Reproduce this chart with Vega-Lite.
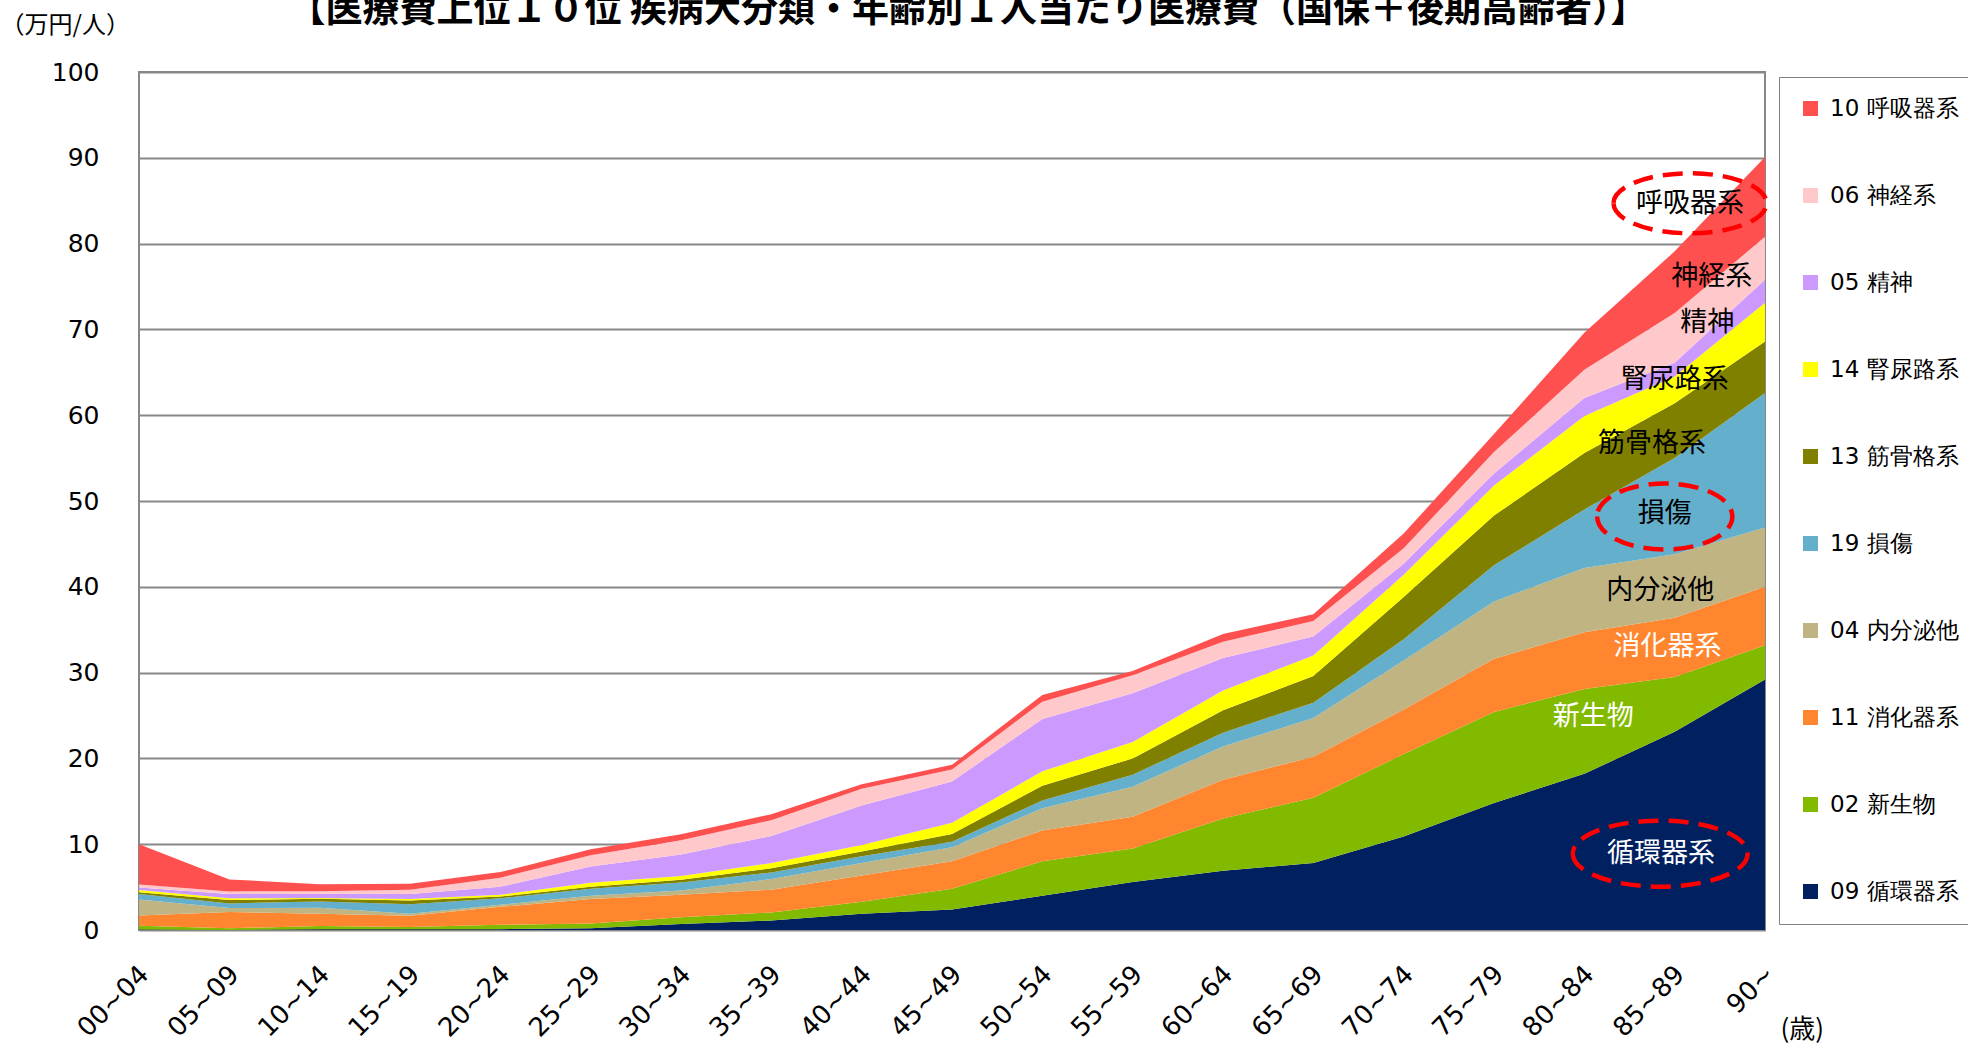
{
  "$schema": "https://vega.github.io/schema/vega-lite/v6.json",
  "autosize": "none",
  "width": 1626,
  "height": 858,
  "padding": {"left": 139, "top": 72, "right": 203, "bottom": 113},
  "background": "white",
  "title": {
    "text": "【医療費上位１０位 疾病大分類・年齢別１人当たり医療費（国保＋後期高齢者）】",
    "font": "Noto Sans CJK JP",
    "fontSize": 37,
    "fontWeight": "bold",
    "color": "#000000",
    "anchor": "middle",
    "frame": "group",
    "offset": 0,
    "dy": 17,
    "dx": 16
  },
  "config": {
    "view": {"stroke": "#888888", "strokeWidth": 2},
    "axis": {"labelFont": "DejaVu Sans", "titleFont": "Noto Sans CJK JP", "labelColor": "#000000", "titleColor": "#000000"}
  },
  "resolve": {"scale": {"x": "independent"}, "axis": {"x": "independent"}},
  "layer": [
    {
      "data": {
        "values": [
          {"age": "00~04", "09 循環器系": 0.05, "02 新生物": 0.45, "11 消化器系": 1.2, "04 内分泌他": 1.85, "19 損傷": 0.65, "13 筋骨格系": 0.2, "14 腎尿路系": 0.25, "05 精神": 0.3, "06 神経系": 0.35, "10 呼吸器系": 4.7},
          {"age": "05~09", "09 循環器系": 0.0, "02 新生物": 0.2, "11 消化器系": 1.9, "04 内分泌他": 0.45, "19 損傷": 0.55, "13 筋骨格系": 0.4, "14 腎尿路系": 0.2, "05 精神": 0.5, "06 神経系": 0.3, "10 呼吸器系": 1.4},
          {"age": "10~14", "09 循環器系": 0.08, "02 新生物": 0.4, "11 消化器系": 1.4, "04 内分泌他": 0.7, "19 損傷": 0.75, "13 筋骨格系": 0.3, "14 腎尿路系": 0.1, "05 精神": 0.5, "06 神経系": 0.3, "10 呼吸器系": 0.8},
          {"age": "15~19", "09 循環器系": 0.1, "02 新生物": 0.25, "11 消化器系": 1.3, "04 内分泌他": 0.25, "19 損傷": 1.1, "13 筋骨格系": 0.45, "14 腎尿路系": 0.15, "05 精神": 0.6, "06 神経系": 0.5, "10 呼吸器系": 0.7},
          {"age": "20~24", "09 循環器系": 0.1, "02 新生物": 0.5, "11 消化器系": 2.1, "04 内分泌他": 0.25, "19 損傷": 0.75, "13 筋骨格系": 0.2, "14 腎尿路系": 0.2, "05 精神": 0.95, "06 神経系": 1.05, "10 呼吸器系": 0.65},
          {"age": "25~29", "09 循環器系": 0.2, "02 新生物": 0.55, "11 消化器系": 2.85, "04 内分泌他": 0.4, "19 損傷": 0.8, "13 筋骨格系": 0.25, "14 腎尿路系": 0.45, "05 精神": 1.9, "06 神経系": 1.3, "10 呼吸器系": 0.7},
          {"age": "30~34", "09 循環器系": 0.7, "02 新生物": 0.8, "11 消化器系": 2.6, "04 内分泌他": 0.5, "19 損傷": 0.95, "13 筋骨格系": 0.3, "14 腎尿路系": 0.45, "05 精神": 2.5, "06 神経系": 1.65, "10 呼吸器系": 0.7},
          {"age": "35~39", "09 循環器系": 1.1, "02 新生物": 0.95, "11 消化器系": 2.65, "04 内分泌他": 1.25, "19 損傷": 0.75, "13 筋骨格系": 0.5, "14 腎尿路系": 0.6, "05 精神": 3.15, "06 神経系": 1.85, "10 呼吸器系": 0.7},
          {"age": "40~44", "09 循環器系": 1.9, "02 新生物": 1.4, "11 消化器系": 3.05, "04 内分泌他": 1.45, "19 損傷": 0.8, "13 筋骨格系": 0.55, "14 腎尿路系": 0.75, "05 精神": 4.6, "06 神経系": 1.95, "10 呼吸器系": 0.55},
          {"age": "45~49", "09 循環器系": 2.4, "02 新生物": 2.4, "11 消化器系": 3.2, "04 内分泌他": 1.65, "19 損傷": 0.65, "13 筋骨格系": 0.9, "14 腎尿路系": 1.3, "05 精神": 4.8, "06 神経系": 1.4, "10 呼吸器系": 0.55},
          {"age": "50~54", "09 循環器系": 4.0, "02 新生物": 4.0, "11 消化器系": 3.6, "04 内分泌他": 2.6, "19 損傷": 0.9, "13 筋骨格系": 1.7, "14 腎尿路系": 1.7, "05 精神": 6.1, "06 神経系": 2.0, "10 呼吸器系": 0.8},
          {"age": "55~59", "09 循環器系": 5.6, "02 新生物": 3.9, "11 消化器系": 3.7, "04 内分泌他": 3.5, "19 損傷": 1.4, "13 筋骨格系": 1.9, "14 腎尿路系": 1.9, "05 精神": 5.7, "06 神経系": 2.1, "10 呼吸器系": 0.5},
          {"age": "60~64", "09 循環器系": 6.9, "02 新生物": 6.1, "11 消化器系": 4.5, "04 内分泌他": 3.9, "19 損傷": 1.6, "13 筋骨格系": 2.6, "14 腎尿路系": 2.3, "05 精神": 3.8, "06 神経系": 1.9, "10 呼吸器系": 0.9},
          {"age": "65~69", "09 循環器系": 7.8, "02 新生物": 7.6, "11 消化器系": 4.8, "04 内分泌他": 4.5, "19 損傷": 1.8, "13 筋骨格系": 3.1, "14 腎尿路系": 2.4, "05 精神": 2.2, "06 神経系": 1.8, "10 呼吸器系": 0.8},
          {"age": "70~74", "09 循環器系": 10.9, "02 新生物": 9.6, "11 消化器系": 5.2, "04 内分泌他": 5.7, "19 損傷": 2.5, "13 筋骨格系": 4.9, "14 腎尿路系": 2.6, "05 精神": 1.3, "06 神経系": 1.8, "10 呼吸器系": 1.7},
          {"age": "75~79", "09 循環器系": 14.8, "02 新生物": 10.6, "11 消化器系": 6.2, "04 内分泌他": 6.7, "19 損傷": 4.2, "13 筋骨格系": 5.8, "14 腎尿路系": 3.5, "05 精神": 1.4, "06 神経系": 2.5, "10 呼吸器系": 2.1},
          {"age": "80~84", "09 循環器系": 18.2, "02 新生物": 9.9, "11 消化器系": 6.6, "04 内分泌他": 7.5, "19 損傷": 6.8, "13 筋骨格系": 6.6, "14 腎尿路系": 4.3, "05 精神": 2.1, "06 神経系": 3.3, "10 呼吸器系": 4.3},
          {"age": "85~89", "09 循環器系": 23.1, "02 新生物": 6.4, "11 消化器系": 6.9, "04 内分泌他": 7.4, "19 損傷": 11.2, "13 筋骨格系": 6.4, "14 腎尿路系": 3.1, "05 精神": 1.6, "06 神経系": 5.8, "10 呼吸器系": 7.2},
          {"age": "90~", "09 循環器系": 29.2, "02 新生物": 4.0, "11 消化器系": 6.8, "04 内分泌他": 6.9, "19 損傷": 15.7, "13 筋骨格系": 6.0, "14 腎尿路系": 4.5, "05 精神": 2.7, "06 神経系": 5.0, "10 呼吸器系": 9.3}
        ]
      },
      "transform": [
        {"fold": ["09 循環器系", "02 新生物", "11 消化器系", "04 内分泌他", "19 損傷", "13 筋骨格系", "14 腎尿路系", "05 精神", "06 神経系", "10 呼吸器系"], "as": ["series", "value"]},
        {"calculate": "indexof(['09 循環器系', '02 新生物', '11 消化器系', '04 内分泌他', '19 損傷', '13 筋骨格系', '14 腎尿路系', '05 精神', '06 神経系', '10 呼吸器系'], datum.series)", "as": "stackRank"}
      ],
      "mark": {"type": "area", "interpolate": "linear", "opacity": 1},
      "encoding": {
        "x": {
          "field": "age", "type": "ordinal", "sort": null,
          "scale": {"type": "point", "padding": 0},
          "axis": {
            "title": "(歳)", "titleFontSize": 26, "titleFontWeight": "normal",
            "titleX": 1641, "titleY": 99, "titleAlign": "left", "titleBaseline": "middle", "titleAngle": 0,
            "labelAngle": -45, "labelAlign": "right", "labelBaseline": "middle", "labelFontSize": 26,
            "labelPadding": 40, "labelOffset": 5, "ticks": false, "tickSize": 0, "domain": false, "grid": false, "labelOverlap": false
          }
        },
        "y": {
          "field": "value", "type": "quantitative", "stack": "zero",
          "scale": {"domain": [0, 100], "nice": false},
          "axis": {
            "title": "（万円/人）", "titleFontSize": 24, "titleFontWeight": "normal", "titleAngle": 0,
            "titleX": -139, "titleY": -47, "titleAlign": "left", "titleBaseline": "middle",
            "values": [0, 10, 20, 30, 40, 50, 60, 70, 80, 90, 100],
            "labelFontSize": 25, "labelPadding": 40, "ticks": false, "tickSize": 0, "domain": false,
            "grid": true, "gridColor": "#888888", "gridWidth": 2
          }
        },
        "order": {"field": "stackRank", "type": "quantitative", "sort": "ascending"},
        "color": {
          "field": "series", "type": "nominal",
          "scale": {
            "domain": ["10 呼吸器系", "06 神経系", "05 精神", "14 腎尿路系", "13 筋骨格系", "19 損傷", "04 内分泌他", "11 消化器系", "02 新生物", "09 循環器系"],
            "range": ["#FF5050", "#FFC9CC", "#CC99FF", "#FFFF00", "#808000", "#63AFCC", "#C0B482", "#FF862F", "#82BA00", "#002060"]
          },
          "legend": {
            "title": null, "orient": "none", "legendX": 1640, "legendY": 5,
            "strokeColor": "#808080", "fillColor": "white", "padding": 20,
            "rowPadding": 63, "symbolType": "square", "symbolSize": 225, "symbolStrokeWidth": 0,
            "labelFont": "DejaVu Sans", "labelFontSize": 23, "labelColor": "#000000", "labelLimit": 400, "labelOffset": 8
          }
        }
      }
    },
    {
      "data": {"values": [
        {"label": "呼吸器系", "x": 17.17, "y": 84.6},
        {"label": "神経系", "x": 17.41, "y": 76.1},
        {"label": "精神", "x": 17.36, "y": 70.7},
        {"label": "腎尿路系", "x": 17.0, "y": 64.1},
        {"label": "筋骨格系", "x": 16.75, "y": 56.6},
        {"label": "損傷", "x": 16.89, "y": 48.5},
        {"label": "内分泌他", "x": 16.84, "y": 39.5}
      ]},
      "mark": {"type": "text", "font": "Noto Sans CJK JP", "fontSize": 27, "color": "#000000", "align": "center", "baseline": "middle"},
      "encoding": {
        "x": {"field": "x", "type": "quantitative", "scale": {"domain": [0, 18], "nice": false, "zero": false}, "axis": null},
        "y": {"field": "y", "type": "quantitative"},
        "text": {"field": "label"}
      }
    },
    {
      "data": {"values": [
        {"label": "消化器系", "x": 16.92, "y": 33.0},
        {"label": "新生物", "x": 16.1, "y": 24.8},
        {"label": "循環器系", "x": 16.85, "y": 8.9}
      ]},
      "mark": {"type": "text", "font": "Noto Sans CJK JP", "fontSize": 27, "color": "#FFFFFF", "align": "center", "baseline": "middle"},
      "encoding": {
        "x": {"field": "x", "type": "quantitative", "scale": {"domain": [0, 18], "nice": false, "zero": false}, "axis": null},
        "y": {"field": "y", "type": "quantitative"},
        "text": {"field": "label"}
      }
    },
    {
      "data": {"values": [{"ring": "呼吸器系", "x": 17.17, "y": 84.7}]},
      "mark": {"type": "point", "shape": "M -2.55 0 A 2.55 1 0 1 0 2.55 0 A 2.55 1 0 1 0 -2.55 0 Z", "size": 3600, "filled": false, "stroke": "#FF0000", "strokeWidth": 4.5, "strokeDash": [20, 10], "opacity": 1},
      "encoding": {
        "x": {"field": "x", "type": "quantitative", "scale": {"domain": [0, 18], "nice": false, "zero": false}, "axis": null},
        "y": {"field": "y", "type": "quantitative"}
      }
    },
    {
      "data": {"values": [{"ring": "損傷", "x": 16.89, "y": 48.2}]},
      "mark": {"type": "point", "shape": "M -2.05 0 A 2.05 1 0 1 0 2.05 0 A 2.05 1 0 1 0 -2.05 0 Z", "size": 4356, "filled": false, "stroke": "#FF0000", "strokeWidth": 4.5, "strokeDash": [20, 10], "opacity": 1},
      "encoding": {
        "x": {"field": "x", "type": "quantitative", "scale": {"domain": [0, 18], "nice": false, "zero": false}, "axis": null},
        "y": {"field": "y", "type": "quantitative"}
      }
    },
    {
      "data": {"values": [{"ring": "循環器系", "x": 16.84, "y": 8.9}]},
      "mark": {"type": "point", "shape": "M -2.65 0 A 2.65 1 0 1 0 2.65 0 A 2.65 1 0 1 0 -2.65 0 Z", "size": 4356, "filled": false, "stroke": "#FF0000", "strokeWidth": 4.5, "strokeDash": [20, 10], "opacity": 1},
      "encoding": {
        "x": {"field": "x", "type": "quantitative", "scale": {"domain": [0, 18], "nice": false, "zero": false}, "axis": null},
        "y": {"field": "y", "type": "quantitative"}
      }
    }
  ]
}
